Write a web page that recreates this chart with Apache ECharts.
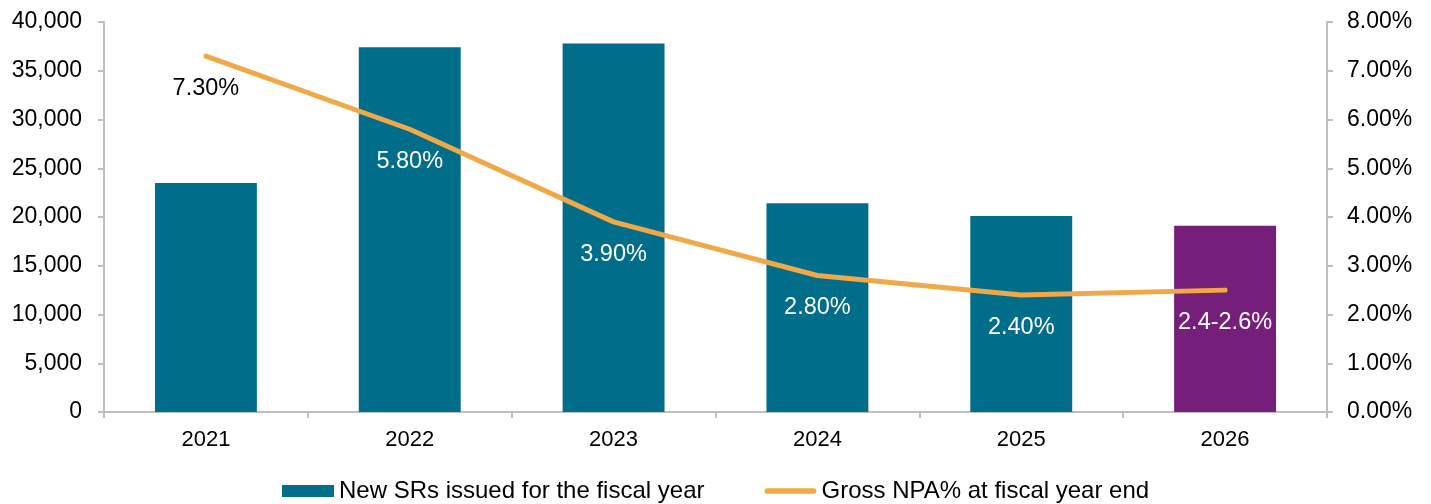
<!DOCTYPE html>
<html>
<head>
<meta charset="utf-8">
<script src="https://cdn.jsdelivr.net/npm/echarts@6/dist/echarts.min.js"></script>
<style>
  html, body { margin: 0; padding: 0; background: #fff; }
  #chart { width: 1431px; height: 504px; }
</style>
</head>
<body>
<div id="chart"></div>
<script>
// Fiscal years on the category axis
const years = ['2021', '2022', '2023', '2024', '2025', '2026'];
// New SRs issued per fiscal year (left axis)
const newSRs = [23500, 37400, 37800, 21400, 20100, 19100];
// Gross NPA % at fiscal year end (right axis)
const grossNPA = [7.30, 5.80, 3.90, 2.80, 2.40, 2.50];
// Text shown beside each NPA point
const npaLabels = ['7.30%', '5.80%', '3.90%', '2.80%', '2.40%', '2.4-2.6%'];

const FONT = '"Liberation Sans", Arial, sans-serif';
const TEAL = '#006E8A';
const PURPLE = '#761F7A';
const ORANGE = '#F0A848';
const AXIS_GREY = '#BFBFBF';

const chart = echarts.init(document.getElementById('chart'));

chart.setOption({
  animation: false,
  textStyle: { fontFamily: FONT },
  grid: { left: 104, right: 104, top: 22, bottom: 92, containLabel: false },
  legend: {
    left: 282,
    top: 479,
    padding: 0,
    itemWidth: 52,
    itemHeight: 12,
    itemGap: 60,
    textStyle: { fontFamily: FONT, fontSize: 24, color: '#000' },
    data: [
      { name: 'New SRs issued for the fiscal year', icon: 'rect', itemStyle: { color: TEAL } },
      {
        name: 'Gross NPA% at fiscal year end',
        icon: 'path://M3,0 H52 A3,3 0 0 1 52,6 H3 A3,3 0 0 1 3,0 Z',
        itemStyle: { color: ORANGE }
      }
    ]
  },
  xAxis: {
    type: 'category',
    data: years,
    boundaryGap: true,
    axisLine: { lineStyle: { color: AXIS_GREY, width: 2 } },
    axisTick: { show: true, alignWithLabel: false, length: 6, lineStyle: { color: AXIS_GREY, width: 2 } },
    axisLabel: { color: '#000', fontSize: 22, fontFamily: FONT, margin: 17 },
    splitLine: { show: false }
  },
  yAxis: [
    {
      type: 'value',
      min: 0,
      max: 40000,
      interval: 5000,
      axisLine: { show: true, lineStyle: { color: AXIS_GREY, width: 2 } },
      axisTick: { show: true, length: 6, lineStyle: { color: AXIS_GREY, width: 2 } },
      axisLabel: {
        color: '#000', fontSize: 23, fontFamily: FONT, margin: 22,
        formatter: v => v.toLocaleString('en-US')
      },
      splitLine: { show: false }
    },
    {
      type: 'value',
      min: 0,
      max: 8,
      interval: 1,
      position: 'right',
      axisLine: { show: true, lineStyle: { color: AXIS_GREY, width: 2 } },
      axisTick: { show: true, length: 6, lineStyle: { color: AXIS_GREY, width: 2 } },
      axisLabel: {
        color: '#000', fontSize: 23, fontFamily: FONT, margin: 20,
        formatter: v => v.toFixed(2) + '%'
      },
      splitLine: { show: false }
    }
  ],
  series: [
    {
      name: 'New SRs issued for the fiscal year',
      type: 'bar',
      yAxisIndex: 0,
      barWidth: '50%',
      data: newSRs.map((v, i) => ({
        value: v,
        itemStyle: { color: i === years.length - 1 ? PURPLE : TEAL }
      })),
      itemStyle: { color: TEAL }
    },
    {
      name: 'Gross NPA% at fiscal year end',
      type: 'line',
      yAxisIndex: 1,
      symbol: 'circle',
      symbolSize: 1,
      showSymbol: true,
      lineStyle: { color: ORANGE, width: 5, cap: 'round' },
      itemStyle: { color: ORANGE },
      z: 3,
      data: grossNPA.map((v, i) => ({
        value: v,
        label: {
          show: true,
          position: 'bottom',
          distance: 20,
          fontSize: 23.5,
          fontFamily: FONT,
          color: i === 0 ? '#000' : '#fff',
          formatter: () => npaLabels[i]
        }
      }))
    }
  ]
});
</script>
</body>
</html>
